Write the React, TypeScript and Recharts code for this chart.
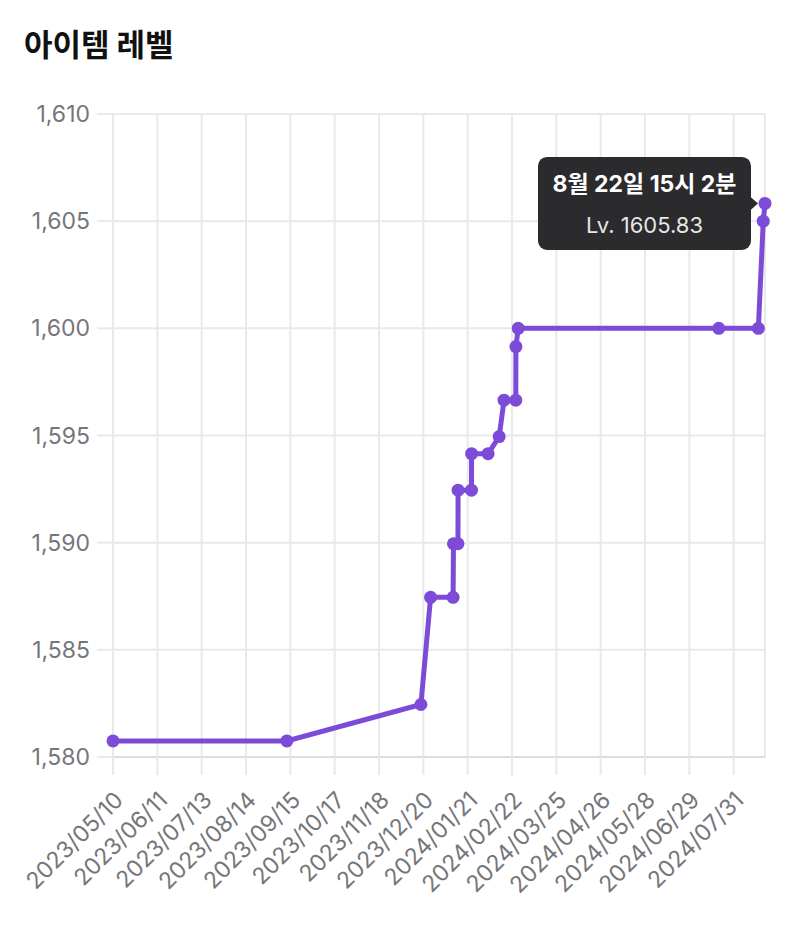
import { LineChart, Line, XAxis, YAxis, CartesianGrid } from "recharts";

// 측정 시각 (UTC) 과 아이템 레벨
const times = [
  "2023-05-10 00:00",
  "2023-09-12 12:00",
  "2023-12-18 06:00",
  "2023-12-25 06:00",
  "2024-01-10 12:00",
  "2024-01-10 18:00",
  "2024-01-14 00:00",
  "2024-01-14 02:00",
  "2024-01-23 18:00",
  "2024-01-23 20:00",
  "2024-02-04 18:00",
  "2024-02-12 18:00",
  "2024-02-16 06:00",
  "2024-02-24 18:00",
  "2024-02-24 20:00",
  "2024-02-26 12:00",
  "2024-07-20 06:00",
  "2024-08-17 20:00",
  "2024-08-21 09:00",
  "2024-08-22 15:02",
];
const levels = [
  1580.75, 1580.75, 1582.45, 1587.45, 1587.45, 1589.95, 1589.95, 1592.45,
  1592.45, 1594.15, 1594.15, 1594.95, 1596.65, 1596.65, 1599.15, 1600.0,
  1600.0, 1600.0, 1605.0, 1605.83,
];

const xTickLabels = [
  "2023/05/10", "2023/06/11", "2023/07/13", "2023/08/14", "2023/09/15",
  "2023/10/17", "2023/11/18", "2023/12/20", "2024/01/21", "2024/02/22",
  "2024/03/25", "2024/04/26", "2024/05/28", "2024/06/29", "2024/07/31",
];
const yTicks = [1580, 1585, 1590, 1595, 1600, 1605, 1610];

const PURPLE = "#7c4bd8";
const GRID = "#e9e9ec";
const FONT = "Inter, 'Noto Sans CJK KR', sans-serif";

const parse = (s: string) => {
  const [d, t] = s.split(/[ ]/);
  const [y, m, day] = d.split(/[-/]/).map(Number);
  const [hh, mm] = (t || "00:00").split(":").map(Number);
  return Date.UTC(y, m - 1, day, hh, mm);
};

const data = times.map((t, i) => ({ ts: parse(t), level: levels[i] }));
const xTicks = xTickLabels.map((s) => parse(s));

const pad = (n: number) => String(n).padStart(2, "0");
const fmtDate = (v: number) => {
  const d = new Date(v);
  return `${d.getUTCFullYear()}/${pad(d.getUTCMonth() + 1)}/${pad(d.getUTCDate())}`;
};
const fmtKo = (v: number) => {
  const d = new Date(v);
  return `${d.getUTCMonth() + 1}월 ${d.getUTCDate()}일 ${d.getUTCHours()}시 ${d.getUTCMinutes()}분`;
};

const TooltipLabel = (props: any) => {
  const { x, y, index } = props;
  if (index !== data.length - 1) return null;
  const w = 213;
  const h = 93;
  const right = x - 14;
  const left = right - w;
  const top = y - h / 2;
  const cx = left + w / 2;
  return (
    <g>
      <rect x={left} y={top} width={w} height={h} rx={9} fill="#2b2b2d" />
      <path d={`M${right - 1},${y - 7} L${right + 7},${y} L${right - 1},${y + 7} Z`} fill="#2b2b2d" />
      <text x={cx} y={top + 35} textAnchor="middle" fill="#fff" fontSize={23} fontWeight={700} fontFamily={FONT}>
        {fmtKo(data[index].ts)}
      </text>
      <text x={cx} y={top + 76} textAnchor="middle" fill="#e6e6e6" fontSize={22} fontFamily={FONT}>
        {`Lv. ${data[index].level}`}
      </text>
    </g>
  );
};

export default function App() {
  return (
    <div style={{ position: "absolute", left: 0, top: 0, width: 800, height: 926, background: "#fff", fontFamily: FONT }}>
      <div
        style={{
          position: "absolute",
          left: 24,
          top: 24,
          fontSize: 31,
          fontWeight: 700,
          color: "#111",
          fontFamily: "'Noto Sans CJK KR', sans-serif",
          lineHeight: 1.2,
        }}
      >
        아이템 레벨
      </div>
      <LineChart
        width={800}
        height={926}
        data={data}
        margin={{ top: 114, right: 35, left: 0, bottom: 0 }}
      >
        <CartesianGrid stroke={GRID} strokeWidth={2} />
        <XAxis
          dataKey="ts"
          type="number"
          domain={["dataMin", "dataMax"]}
          ticks={xTicks}
          tickFormatter={fmtDate}
          height={169}
          angle={-45}
          textAnchor="end"
          tickSize={18}
          tickMargin={15}
          interval={0}
          axisLine={{ stroke: "#dcdcdf", strokeWidth: 2 }}
          tickLine={{ stroke: GRID, strokeWidth: 2 }}
          tick={{ fill: "#76767a", fontSize: 23, fontFamily: FONT }}
        />
        <YAxis
          domain={[1580, 1610]}
          ticks={yTicks}
          tickFormatter={(v: number) => v.toLocaleString("en-US")}
          width={113}
          tickSize={16}
          tickMargin={7}
          axisLine={false}
          tickLine={{ stroke: GRID, strokeWidth: 2 }}
          tick={{ fill: "#76767a", fontSize: 23, fontFamily: FONT }}
        />
        <Line
          type="linear"
          dataKey="level"
          stroke={PURPLE}
          strokeWidth={5}
          dot={{ r: 6.5, fill: PURPLE, stroke: PURPLE, strokeWidth: 0 }}
          activeDot={false}
          isAnimationActive={false}
          label={<TooltipLabel />}
        />
      </LineChart>
    </div>
  );
}
